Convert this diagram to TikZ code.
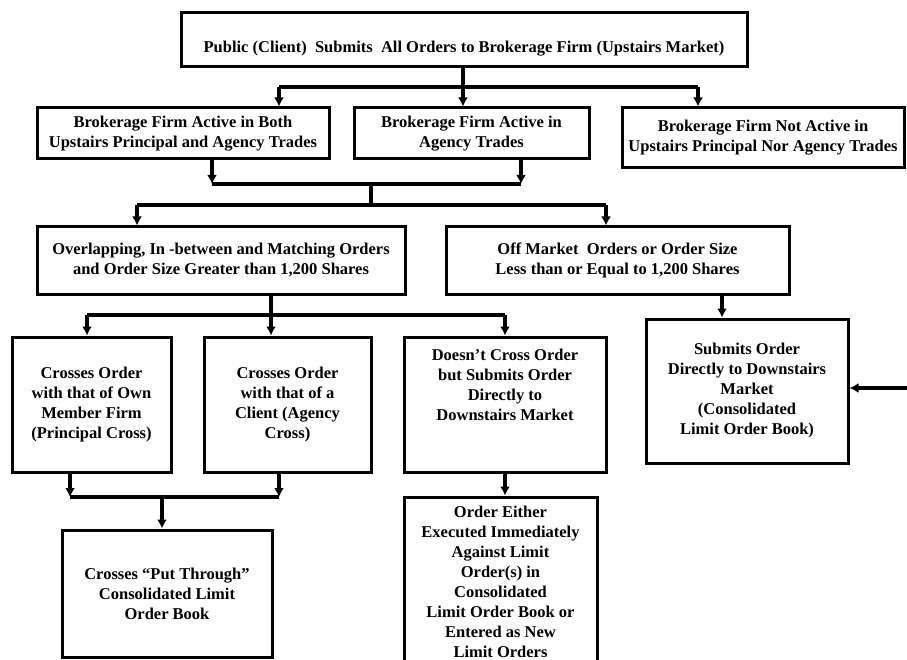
\documentclass[tikz,border=0pt]{standalone}
\usepackage{fontspec}
\setmainfont{Liberation Serif}
\usetikzlibrary{arrows.meta}

\begin{document}
\begin{tikzpicture}[x=1pt,y=-1pt,>=Latex,
  box/.style={draw=black,line width=3pt,align=center,inner sep=2pt,font=\fontsize{16.5}{20}\selectfont\bfseries},
  conn/.style={line width=4pt},
  arr/.style={line width=3.4pt,-{Latex[length=9pt,width=10pt]}}]
\useasboundingbox (0,0) rectangle (907,660);
% boxes
\node[box,minimum width=566pt,minimum height=54pt] (pub) at (464,40) {\raisebox{-13pt}[0pt][0pt]{Public (Client)\ \ Submits\ \ All Orders to Brokerage Firm (Upstairs Market)}};
\node[box,minimum width=292pt,minimum height=51pt] (both) at (183,133.5) {Brokerage Firm Active in Both\\Upstairs Principal and Agency Trades};
\node[box,minimum width=235pt,minimum height=51pt] (agency) at (471.5,133.5) {Brokerage Firm Active in\\Agency Trades};
\node[box,minimum width=282pt,minimum height=60pt] (notact) at (763,138) {Brokerage Firm Not Active in\\Upstairs Principal Nor Agency Trades};
\node[box,minimum width=368pt,minimum height=67pt] (overlap) at (221,260.5) {Overlapping, In -between and Matching Orders\\and Order Size Greater than 1,200 Shares};
\node[box,minimum width=343pt,minimum height=67pt] (offmkt) at (617.5,260.5) {Off Market\ \ Orders or Order Size\\Less than or Equal to 1,200 Shares};
\node[box,minimum width=159pt,minimum height=135pt] (princ) at (91.5,404.5) {Crosses Order\\with that of Own\\Member Firm\\(Principal Cross)};
\node[box,minimum width=167pt,minimum height=135pt] (client) at (287.5,404.5) {Crosses Order\\with that of a\\Client (Agency\\Cross)};
\node[box,minimum width=202pt,minimum height=135pt] (nocross) at (505,404.5) {Doesn't Cross Order\\but Submits Order\\Directly to\\Downstairs Market\\[20pt]};
\node[box,minimum width=202pt,minimum height=144pt] (direct) at (747,391) {Submits Order\\Directly to Downstairs\\Market\\(Consolidated\\Limit Order Book)};
\node[box,minimum width=210pt,minimum height=127pt] (putthr) at (167,593.5) {Crosses ``Put Through''\\Consolidated Limit\\Order Book};
\node[box,minimum width=193pt,minimum height=170pt] (either) at (500.5,582) {Order Either\\Executed Immediately\\Against Limit\\Order(s) in\\Consolidated\\Limit Order Book or\\Entered as New\\Limit Orders};
% junctions
\coordinate (t0) at (463,87);
\coordinate (t1) at (279,87);
\coordinate (t2) at (698,87);
\coordinate (m0) at (371,184);
\coordinate (m1) at (212,184);
\coordinate (m2) at (521,184);
\coordinate (n0) at (371,205);
\coordinate (n1) at (137,205);
\coordinate (n2) at (606,205);
\coordinate (s0) at (271,315);
\coordinate (s1) at (87,315);
\coordinate (s2) at (505,315);
\coordinate (b0) at (162,497);
\coordinate (b1) at (70,497);
\coordinate (b2) at (279,497);
\coordinate (mkt) at (907,388);
% connectors
\draw[conn] (pub.south -| t0) -- (t0);
\draw[conn] (t1) -- (t2);
\draw[arr] (t1) -- (t1 |- both.north);
\draw[arr] (t0) -- (t0 |- agency.north);
\draw[arr] (t2) -- (t2 |- notact.north);
\draw[arr] (both.south -| m1) -- (m1);
\draw[arr] (agency.south -| m2) -- (m2);
\draw[conn] (m1) -- (m2);
\draw[conn] (m0) -- (n0);
\draw[conn] (n1) -- (n2);
\draw[arr] (n1) -- (n1 |- overlap.north);
\draw[arr] (n2) -- (n2 |- offmkt.north);
\draw[conn] (overlap.south -| s0) -- (s0);
\draw[conn] (s1) -- (s2);
\draw[arr] (s1) -- (s1 |- princ.north);
\draw[arr] (s0) -- (s0 |- client.north);
\draw[arr] (s2) -- (s2 |- nocross.north);
\draw[arr] (offmkt.south -| 722,0) -- (direct.north -| 722,0);
\draw[arr] (princ.south -| b1) -- (b1);
\draw[arr] (client.south -| b2) -- (b2);
\draw[conn] (b1) -- (b2);
\draw[arr] (b0) -- (b0 |- putthr.north);
\draw[arr] (nocross.south -| s2) -- (s2 |- either.north);
\draw[arr] (mkt) -- (direct.east |- mkt);
\end{tikzpicture}
\end{document}
